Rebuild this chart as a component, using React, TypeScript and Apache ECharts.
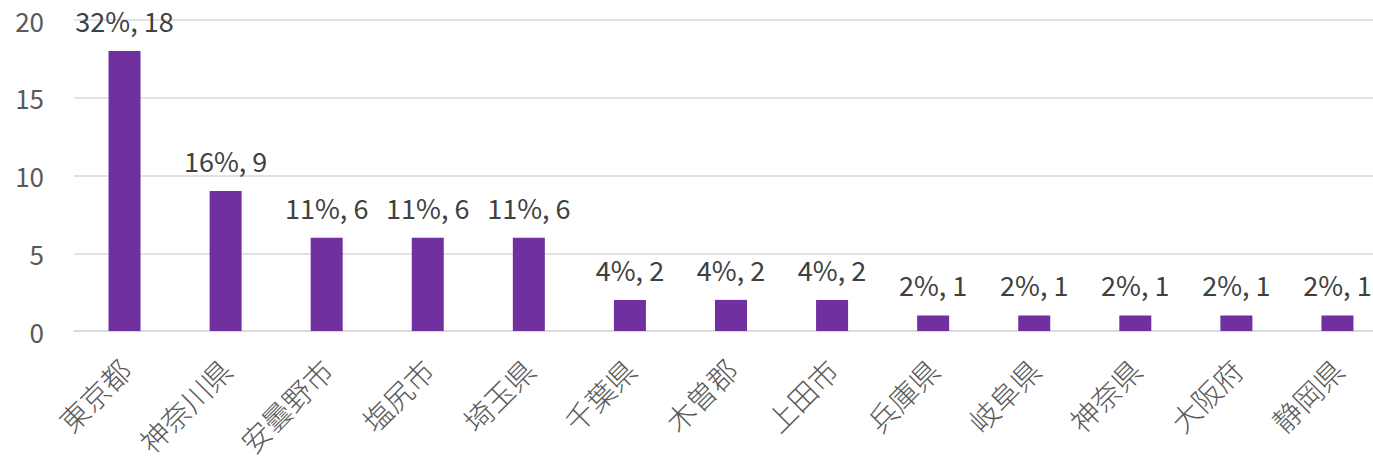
import React, { useEffect, useRef } from "react";
import * as echarts from "echarts";

const categories = ["東京都", "神奈川県", "安曇野市", "塩尻市", "埼玉県", "千葉県", "木曽郡", "上田市", "兵庫県", "岐阜県", "神奈県", "大阪府", "静岡県"];
const counts = [18, 9, 6, 6, 6, 2, 2, 2, 1, 1, 1, 1, 1];
const percents = ["32%", "16%", "11%", "11%", "11%", "4%", "4%", "4%", "2%", "2%", "2%", "2%", "2%"];
const yTicks = [0, 5, 10, 15, 20];

const FONT = "'Noto Sans CJK JP', 'Noto Sans', sans-serif";

export default function App() {
  const ref = useRef<HTMLDivElement>(null);
  useEffect(() => {
    if (!ref.current) return;
    const chart = echarts.init(ref.current, undefined, { renderer: "svg" });
    chart.setOption({
      animation: false,
      textStyle: { fontFamily: FONT },
      grid: { left: 74, right: 0, top: 20, bottom: 133, containLabel: false, outerBoundsMode: "none" },
      xAxis: {
        type: "category",
        data: categories,
        axisLine: { show: true, lineStyle: { color: "#D9D9D9", width: 1.5 } },
        axisTick: { show: false },
        axisLabel: { rotate: 45, fontSize: 29, fontWeight: 300, color: "#595959", margin: 33, fontFamily: FONT, interval: 0 },
      },
      yAxis: {
        type: "value",
        min: yTicks[0],
        max: yTicks[yTicks.length - 1],
        interval: 5,
        axisLine: { show: false },
        axisTick: { show: false },
        splitLine: { lineStyle: { color: "#D9D9D9", width: 1.5 } },
        axisLabel: { fontSize: 26, color: "#595959", margin: 30, fontFamily: FONT },
      },
      series: [
        {
          type: "bar",
          data: counts,
          barWidth: 32,
          itemStyle: { color: "#7030A0" },
          label: {
            show: true,
            position: "top",
            distance: 17,
            fontSize: 27,
            color: "#404040",
            fontFamily: FONT,
            formatter: (p: any) => `${percents[p.dataIndex]}, ${p.value}`,
          },
        },
      ],
    });
    return () => chart.dispose();
  }, []);
  return (
    <div style={{ position: "absolute", left: 0, top: 0, width: 1373, height: 464, overflow: "hidden" }}>
      <div ref={ref} style={{ width: 1388, height: 464 }} />
    </div>
  );
}
